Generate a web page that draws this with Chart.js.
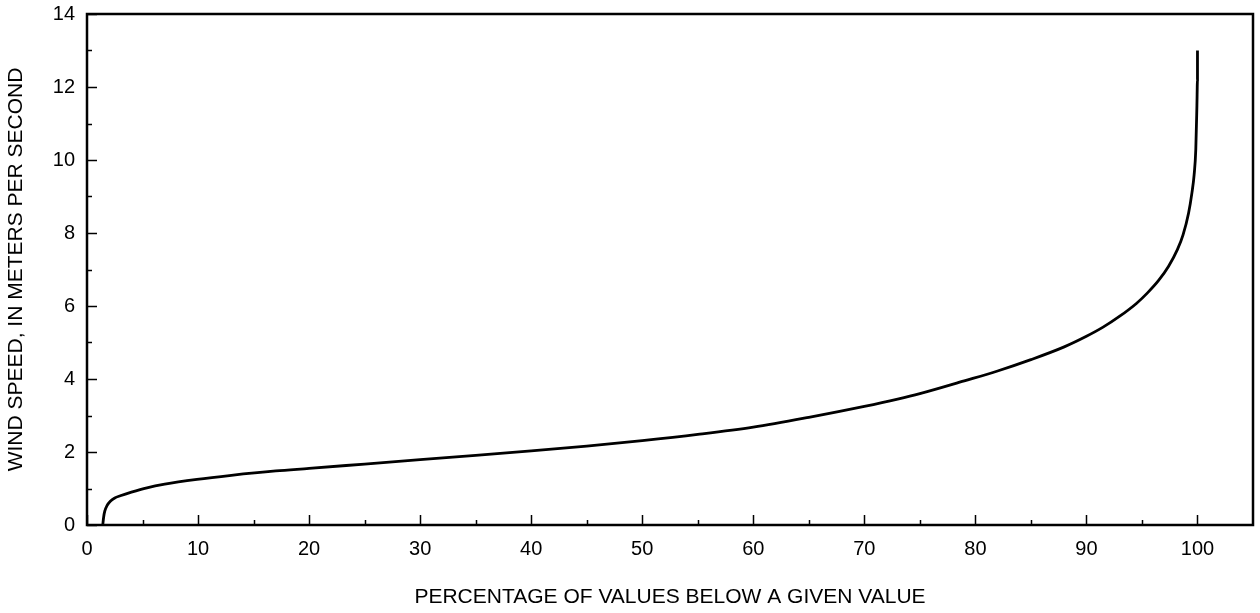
<!DOCTYPE html>
<html>
<head>
<meta charset="utf-8">
<script src="https://cdn.jsdelivr.net/npm/chart.js@4/dist/chart.umd.min.js"></script>
<style>
  html, body { margin: 0; padding: 0; background: #fff; }
  #wrap { width: 1260px; height: 613px; position: relative; }
</style>
</head>
<body>
<div id="wrap"><canvas id="chart"></canvas></div>
<script>
// percentage of values below a given value (x) vs wind speed m/s (y)
var pct = [1.42, 1.5, 1.6, 1.8, 2.1, 2.5, 3.0, 4.0, 5.4, 7.0, 9.9, 13, 17, 20, 25, 30, 35, 40, 45, 50, 55, 60, 65, 70, 73, 75, 79, 82, 85, 88, 90, 91.5, 93, 94.5, 95.5, 96.5, 97.4, 98.2, 98.7, 99.2, 99.5, 99.7, 99.85, 99.95, 100, 100];
var speed = [0, 0.22, 0.38, 0.53, 0.65, 0.74, 0.8, 0.9, 1.02, 1.12, 1.25, 1.36, 1.48, 1.55, 1.67, 1.79, 1.91, 2.03, 2.16, 2.31, 2.48, 2.68, 2.95, 3.25, 3.45, 3.6, 3.95, 4.22, 4.53, 4.88, 5.17, 5.42, 5.72, 6.07, 6.36, 6.7, 7.09, 7.55, 7.95, 8.55, 9.1, 9.6, 10.3, 11.5, 12.2, 13.0];

var xMajor = [0, 10, 20, 30, 40, 50, 60, 70, 80, 90, 100];
var xMinor = [5, 15, 25, 35, 45, 55, 65, 75, 85, 95];
var yMajor = [0, 2, 4, 6, 8, 10, 12, 14];
var yMinor = [1, 3, 5, 7, 9, 11, 13];

var points = [];
for (let i = 0; i < pct.length; i++) {
    points.push({x: pct[i], y: speed[i]});
}

var font = "'Liberation Sans', Arial, Helvetica, sans-serif";

// frame + inward tick marks
var frameTicks = {
    id: 'frameTicks',
    afterDraw: function(chart) {
        var ctx = chart.ctx;
        var a = chart.chartArea;
        var xs = chart.scales.x, ys = chart.scales.y;
        ctx.save();
        ctx.strokeStyle = '#000';
        ctx.lineWidth = 1.5;
        ctx.beginPath();
        xMajor.forEach(function(v) {
            var p = Math.round(xs.getPixelForValue(v)) + 0.5;
            ctx.moveTo(p, a.bottom); ctx.lineTo(p, a.bottom - 10);
        });
        xMinor.forEach(function(v) {
            var p = Math.round(xs.getPixelForValue(v)) + 0.5;
            ctx.moveTo(p, a.bottom); ctx.lineTo(p, a.bottom - 5);
        });
        yMajor.forEach(function(v) {
            var p = Math.round(ys.getPixelForValue(v)) + 0.5;
            ctx.moveTo(a.left, p); ctx.lineTo(a.left + 10, p);
        });
        yMinor.forEach(function(v) {
            var p = Math.round(ys.getPixelForValue(v)) + 0.5;
            ctx.moveTo(a.left, p); ctx.lineTo(a.left + 5, p);
        });
        ctx.stroke();
        ctx.lineWidth = 2.5;
        ctx.strokeRect(a.left, a.top, a.right - a.left, a.bottom - a.top);
        ctx.restore();
    }
};

var ctx = document.getElementById('chart');
var line_chart = new Chart(ctx, {
    type: 'line',
    data: {
        datasets: [{
            data: points,
            borderColor: '#000',
            borderWidth: 2.8,
            pointRadius: 0,
            fill: false,
            cubicInterpolationMode: 'monotone'
        }]
    },
    options: {
        responsive: true,
        maintainAspectRatio: false,
        animation: false,
        layout: { padding: { left: 0, top: 14, right: 7, bottom: 0 } },
        plugins: { legend: { display: false }, tooltip: { enabled: false } },
        scales: {
            x: {
                type: 'linear',
                min: 0,
                max: 105,
                grid: { display: false, drawTicks: false },
                border: { display: false },
                afterBuildTicks: function(s) { s.ticks = xMajor.map(function(v) { return {value: v}; }); },
                afterFit: function(s) { s.height = 88; s.paddingLeft = 0; s.paddingRight = 0; },
                ticks: { color: '#000', padding: 12, maxRotation: 0, font: { family: font, size: 20 } },
                title: {
                    display: true,
                    text: 'PERCENTAGE OF VALUES BELOW A GIVEN VALUE',
                    color: '#000',
                    font: { family: font, size: 21 },
                    padding: { top: 0, bottom: 3 }
                }
            },
            y: {
                type: 'linear',
                min: 0,
                max: 14,
                grid: { display: false, drawTicks: false },
                border: { display: false },
                afterBuildTicks: function(s) { s.ticks = yMajor.map(function(v) { return {value: v}; }); },
                afterFit: function(s) { s.width = 87; s.paddingTop = 0; s.paddingBottom = 0; },
                ticks: { color: '#000', padding: 12, font: { family: font, size: 20 } },
                title: {
                    display: true,
                    text: 'WIND SPEED, IN METERS PER SECOND',
                    color: '#000',
                    font: { family: font, size: 21 },
                    padding: { top: 4, bottom: 0 }
                }
            }
        }
    },
    plugins: [frameTicks]
});
</script>
</body>
</html>
